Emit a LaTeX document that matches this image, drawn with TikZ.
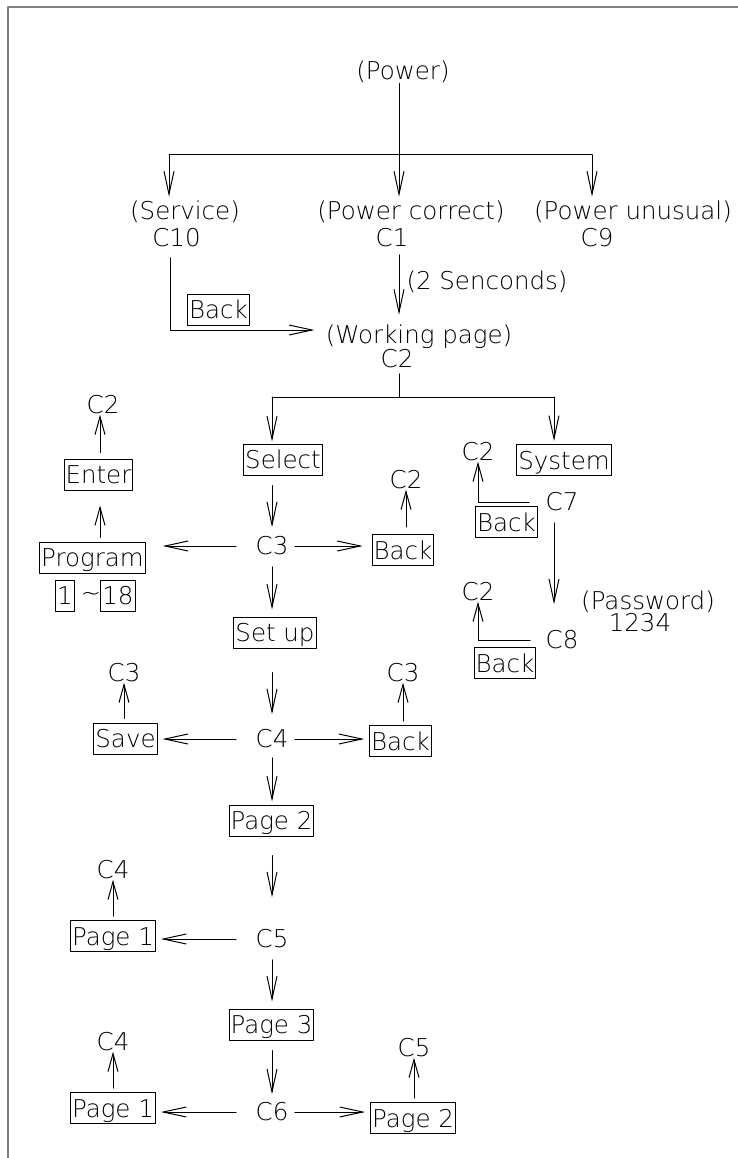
\documentclass[tikz,border=0pt]{standalone}
\usepackage{fontspec}
\setmainfont{DejaVu Sans ExtraLight}
\usetikzlibrary{arrows.meta}
\begin{document}
\begin{tikzpicture}[x=1pt,y=1pt,line join=round,line cap=round,line width=1pt,
  arr/.style={-{Straight Barb[length=23pt,width=10pt]}},
  uarr/.style={-{Straight Barb[length=18pt,width=10pt]}}]
\tikzset{every node/.style={inner sep=0pt,font=\fontsize{24.5}{27}\selectfont},
  btn/.style={draw,inner xsep=1.5pt,inner ysep=2.5pt,text height=22pt,text depth=4pt}}
\useasboundingbox (0,0) rectangle (738,-1158);
\draw[gray,line width=1.5pt] (8,-1158)--(8,-7)--(738,-7);
\node (pwr) at (403,-72) {(Power)};
\node (serv) at (185,-212) {(Service)};
\node (cten) at (176.5,-238) {C10};
\node (pcor) at (411,-212) {(Power correct)};
\node (cone) at (392,-238) {C1};
\node (punu) at (633,-212) {(Power unusual)};
\node (cnine) at (597,-238) {C9};
\node (secs) at (487,-282) {(2 Senconds)};
\node[btn] (bksv) at (218.5,-309.5) {Back};
\node (work) at (419,-337) {(Working page)};
\node (cwork) at (397,-359) {C2};
\node[btn] (sel) at (283,-459.5) {Select};
\node[btn] (sys) at (564,-460) {System};
\node (cthree) at (272,-546) {C3};
\node[btn] (prog) at (92.5,-557.5) {Program};
\node[btn] (pone) at (65,-595.5) {1};
\node (tld) at (91,-597) {\textasciitilde};
\node[btn] (peight) at (118,-595.5) {18};
\node[btn] (ent) at (98.5,-474.5) {Enter};
\node (cent) at (103,-405) {C2};
\node[btn] (bkst) at (403,-550) {Back};
\node (cbkst) at (406,-480) {C2};
\node (csys) at (478,-452) {C2};
\node (cseven) at (562,-502) {C7};
\node[btn] (bkseven) at (506.5,-522) {Back};
\node (pwd) at (648,-602) {(Password)};
\node (pin) at (640,-623) {1234};
\node (cpwd) at (478,-592) {C2};
\node (ceight) at (562,-640) {C8};
\node[btn] (bkeight) at (505,-663) {Back};
\node[btn] (setup) at (275,-632.5) {Set up};
\node (cfour) at (272,-739) {C4};
\node[btn] (save) at (125.5,-738.5) {Save};
\node (csave) at (124,-673) {C3};
\node[btn] (bkfour) at (400.5,-741) {Back};
\node (cbkfour) at (403,-673) {C3};
\node[btn] (ptwo) at (271.5,-820.5) {Page 2};
\node (cfive) at (272,-939) {C5};
\node[btn] (pgone) at (113,-936) {Page 1};
\node (cpgone) at (113,-870) {C4};
\node[btn] (pthree) at (271.5,-1024.5) {Page 3};
\node (csix) at (272,-1112) {C6};
\node[btn] (pgoneb) at (113,-1108) {Page 1};
\node (cpgoneb) at (113,-1042) {C4};
\node[btn] (ptwob) at (413,-1118) {Page 2};
\node (cptwob) at (414,-1048) {C5};
\coordinate (jp) at (399,-155);
\coordinate (jl) at (169,-155);
\coordinate (jr) at (592,-155);
\coordinate (jb) at (170,-330);
\coordinate (jw) at (399,-397);
\coordinate (jsl) at (272,-397);
\coordinate (jsr) at (554,-397);
\draw[arr,shorten >=4pt] (pwr.south -| jp) -- (jp |- pcor.north);
\draw (jl) -- (jr);
\draw[arr,shorten >=4pt] (jl) -- (jl |- serv.north);
\draw[arr,shorten >=4pt] (jr) -- (jr |- punu.north);
\draw[arr,shorten >=11pt] ([yshift=-10pt]cten.south -| jb) -- (jb) -- (work.west |- jb);
\draw[arr,shorten <=7pt,shorten >=10pt] (cone.south -| jp) -- (jp |- work.north);
\draw[shorten <=5pt] (cwork.south -| jw) -- (jw);
\draw (jsl) -- (jsr);
\draw[arr,shorten >=2pt] (jsl) -- (jsl |- sel.north);
\draw[arr,shorten >=3pt] (jsr) -- (jsr |- sys.north);
\draw[arr,shorten <=10pt,shorten >=9pt] (sel.south -| cthree) -- (cthree.north);
\draw[arr,shorten <=19pt,shorten >=17pt] (cthree.west) -- (prog.east |- cthree.west);
\draw[arr,shorten <=6pt,shorten >=9pt] (cthree.east) -- (bkst.west |- cthree.east);
\draw[uarr,shorten <=4pt,shorten >=15pt] ([xshift=7.5pt]prog.north) -- ([xshift=1.5pt]ent.south);
\draw[uarr,shorten <=6pt] ([xshift=1.5pt]ent.north) -- ([xshift=-3pt]cent.south);
\draw[uarr,shorten <=7pt] (bkst.north -| cbkst) -- (cbkst.south);
\draw[uarr,shorten <=16pt] (cseven.west) -| (csys.south);
\draw[arr,shorten <=11pt,shorten >=26pt] (cseven.south -| jsr) -- (jsr |- ceight.north);
\draw[uarr,shorten <=15pt] (ceight.west) -| (cpwd.south);
\draw[arr,shorten <=11pt,shorten >=7pt] (cthree.south) -- (cthree.south |- setup.north);
\draw[arr,shorten <=24pt,shorten >=15pt] (setup.south -| cfour) -- (cfour.north);
\draw[arr,shorten <=9pt,shorten >=3pt] (cfour.south) -- (cfour.south |- ptwo.north);
\draw[arr,shorten <=19pt,shorten >=32pt] (ptwo.south -| cfive) -- (cfive.north);
\draw[arr,shorten <=11pt,shorten >=7pt] (cfive.south) -- (cfive.south |- pthree.north);
\draw[arr,shorten <=10pt,shorten >=8pt] (pthree.south -| csix) -- (csix.north);
\foreach \a/\b in {cfour/save,cfive/pgone,csix/pgoneb}
\draw[arr,shorten <=19pt,shorten >=5pt] (\a.west) -- (\b.east |- \a.west);
\foreach \a/\b in {cfour/bkfour,csix/ptwob}
\draw[arr,shorten <=6pt,shorten >=5pt] (\a.east) -- (\b.west |- \a.east);
\foreach \a/\b in {save/csave,bkfour/cbkfour,pgone/cpgone,pgoneb/cpgoneb,ptwob/cptwob}
\draw[uarr,shorten <=4pt] (\a.north -| \b) -- (\b.south);
\end{tikzpicture}
\end{document}
